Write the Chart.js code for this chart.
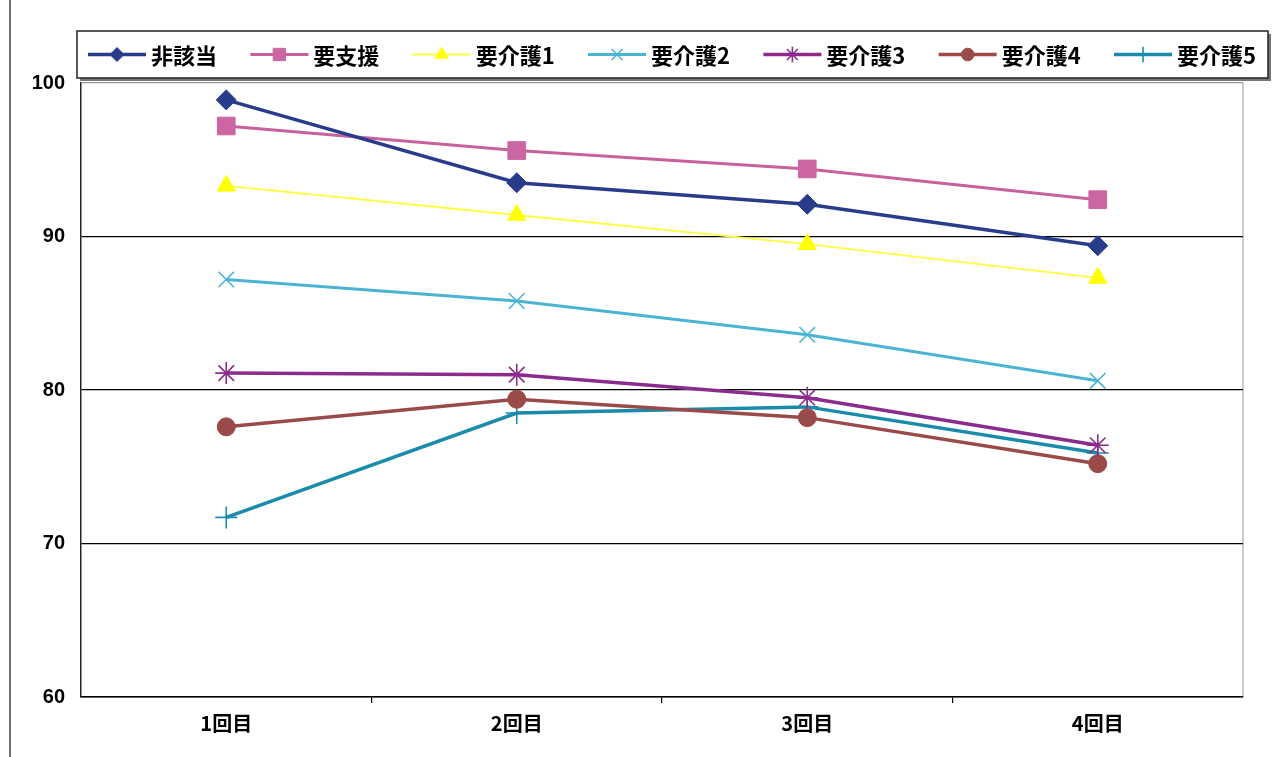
<!DOCTYPE html>
<html lang="ja">
<head>
<meta charset="utf-8">
<title>要介護度別 推移</title>
<script src="https://cdn.jsdelivr.net/npm/chart.js@4/dist/chart.umd.min.js"></script>
<style>
  html, body { margin: 0; background: #fff; }
  #box { position: relative; width: 1274px; height: 757px; }
</style>
</head>
<body>
<div id="box"><canvas id="line-chart"></canvas></div>
<script>
const rounds = ['1回目', '2回目', '3回目', '4回目']
const groupNames = ['非該当', '要支援', '要介護1', '要介護2', '要介護3', '要介護4', '要介護5']
const hiGaitou = [98.9, 93.5, 92.1, 89.4]
const youShien = [97.2, 95.6, 94.4, 92.4]
const kaigo1 = [93.3, 91.4, 89.5, 87.3]
const kaigo2 = [87.2, 85.8, 83.6, 80.6]
const kaigo3 = [81.1, 81.0, 79.5, 76.4]
const kaigo4 = [77.6, 79.4, 78.2, 75.2]
const kaigo5 = [71.7, 78.5, 78.9, 75.9]
const yTicks = [60, 70, 80, 90, 100]

const jpFont = '"Noto Sans CJK JP", "Noto Sans", sans-serif'
const numFont = '"Liberation Sans", Arial, sans-serif'

// line colour, line width, marker
const looks = [
  { color: '#293b8b', fill: '#293b8b', width: 3.5, point: 'rectRot', r: 10, pw: 1 },
  { color: '#c8609e', fill: '#cc66a2', width: 3, point: 'rect', r: 12.5, pw: 1 },
  { color: '#ffff40', fill: '#ffff00', width: 1.8, point: 'triangle', r: 10.5, pw: 1 },
  { color: '#4cb4d3', fill: '#4cb4d3', width: 3, point: 'crossRot', r: 11, pw: 1.6 },
  { color: '#8b2b8c', fill: '#8b2b8c', width: 3.5, point: 'star', r: 11, pw: 1.6 },
  { color: '#9b4a4a', fill: '#9b4a4a', width: 3.5, point: 'circle', r: 9, pw: 1 },
  { color: '#1a8bab', fill: '#1a8bab', width: 3.5, point: 'cross', r: 11, pw: 1.6 },
]

const series = [hiGaitou, youShien, kaigo1, kaigo2, kaigo3, kaigo4, kaigo5]

const datasets = series.map((vals, i) => ({
  label: groupNames[i],
  data: vals,
  borderColor: looks[i].color,
  borderWidth: looks[i].width,
  pointStyle: looks[i].point,
  pointRadius: looks[i].r,
  pointBackgroundColor: looks[i].fill,
  pointBorderColor: looks[i].fill,
  pointBorderWidth: looks[i].pw,
  tension: 0,
}))

const frame = {
  id: 'frame',
  beforeDraw(chart) {
    const { ctx, chartArea: a } = chart
    ctx.save()
    ctx.fillStyle = '#fff'
    ctx.fillRect(0, 0, chart.width, chart.height)
    ctx.strokeStyle = '#444'
    ctx.lineWidth = 1.5
    ctx.beginPath()
    ctx.moveTo(10, 0)
    ctx.lineTo(10, chart.height)
    ctx.stroke()
    ctx.strokeStyle = '#999'
    ctx.lineWidth = 1
    ctx.beginPath()
    ctx.moveTo(a.right, a.top)
    ctx.lineTo(a.right, a.bottom)
    ctx.stroke()
    ctx.restore()
  },
  afterDraw(chart) {
    const { ctx } = chart
    const sets = chart.data.datasets
    ctx.save()
    ctx.font = 'bold 22px ' + jpFont
    ctx.textBaseline = 'middle'
    const widths = sets.map(d => ctx.measureText(d.label).width)
    const left = 77, right = 1268, top = 31, bottom = 78
    const lineLen = 58, textGap = 5, start = 88, end = 1256
    const textSum = widths.reduce((s, w) => s + w, 0)
    const gap = (end - start - sets.length * (lineLen + textGap) - textSum) / (sets.length - 1)

    ctx.fillStyle = '#777'
    ctx.fillRect(left + 3, top + 3, right - left, bottom - top)
    ctx.fillStyle = '#fff'
    ctx.fillRect(left, top, right - left, bottom - top)
    ctx.strokeStyle = '#222'
    ctx.lineWidth = 1.5
    ctx.strokeRect(left, top, right - left, bottom - top)

    const y = (top + bottom) / 2
    let x = start
    sets.forEach((d, i) => {
      ctx.strokeStyle = d.borderColor
      ctx.lineWidth = d.borderWidth
      ctx.beginPath()
      ctx.moveTo(x, y)
      ctx.lineTo(x + lineLen, y)
      ctx.stroke()
      ctx.fillStyle = d.pointBackgroundColor
      ctx.strokeStyle = d.pointBorderColor
      ctx.lineWidth = d.pointBorderWidth
      Chart.helpers.drawPoint(ctx, {
        pointStyle: d.pointStyle,
        rotation: 0,
        radius: d.pointRadius * 0.7,
        borderWidth: d.pointBorderWidth,
      }, x + lineLen / 2, y)
      ctx.fillStyle = '#000'
      ctx.fillText(d.label, x + lineLen + textGap, y + 1)
      x += lineLen + textGap + widths[i] + gap
    })
    ctx.restore()
  },
}

new Chart(document.getElementById('line-chart'), {
  type: 'line',
  data: { labels: rounds, datasets },
  options: {
    responsive: true,
    maintainAspectRatio: false,
    animation: false,
    layout: { padding: { top: 83, right: 31, bottom: 0, left: 0 } },
    scales: {
      x: {
        offset: true,
        grid: {
          offset: true,
          drawOnChartArea: false,
          tickLength: 6,
          lineWidth: 1.2,
          color: c => (c.index > 0 && c.index < rounds.length) ? '#000' : 'rgba(0,0,0,0)',
        },
        border: { color: '#000', width: 1.5 },
        ticks: {
          padding: 8,
          color: '#000',
          font: { family: jpFont, size: 20, weight: 'bold' },
        },
        afterFit: s => { s.height = 60 },
      },
      y: {
        min: 60,
        max: 100,
        afterBuildTicks: s => { s.ticks = yTicks.map(v => ({ value: v })) },
        grid: {
          drawTicks: false,
          lineWidth: 1.3,
          color: c => c.tick.value === 100 ? '#999' : '#000',
        },
        border: { color: '#222', width: 1.5 },
        ticks: {
          padding: 16,
          color: '#000',
          font: { family: numFont, size: 20, weight: 'bold' },
        },
        afterFit: s => { s.width = 81 },
      },
    },
    plugins: {
      legend: { display: false },
      tooltip: { enabled: false },
    },
  },
  plugins: [frame],
})
</script>
</body>
</html>
